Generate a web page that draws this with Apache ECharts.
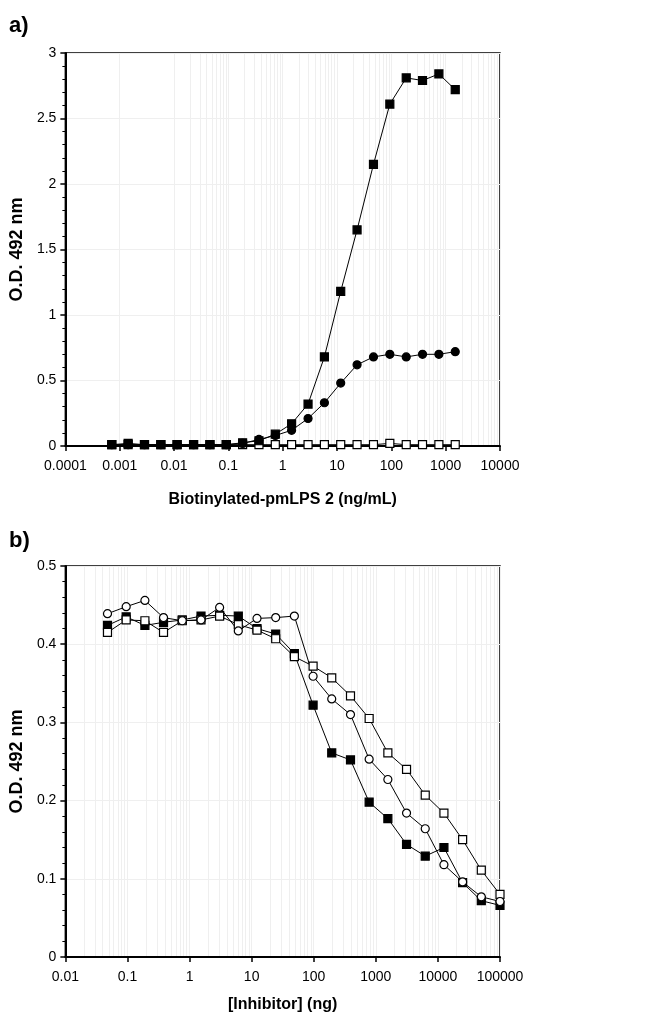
<!DOCTYPE html>
<html>
<head>
<meta charset="utf-8">
<script src="https://cdn.jsdelivr.net/npm/echarts@6/dist/echarts.min.js"></script>
<style>
html, body { margin: 0; padding: 0; background: #fff; }
#chart { width: 649px; height: 1023px; }
</style>
</head>
<body>
<div id="chart"></div>
<script>
// a) titration with biotinylated-pmLPS 2 (ng/mL), two-fold dilutions
const concA = [0.000715, 0.00143, 0.00286, 0.00572, 0.0114, 0.0229, 0.0458, 0.0916, 0.183, 0.366, 0.732,
    1.46, 2.93, 5.86, 11.7, 23.4, 46.9, 93.8, 188, 375, 750, 1500]
const filledSquareA = [0.01, 0.02, 0.01, 0.01, 0.01, 0.01, 0.01, 0.01, 0.025, 0.04, 0.09,
    0.17, 0.32, 0.68, 1.18, 1.65, 2.15, 2.61, 2.81, 2.79, 2.84, 2.72]
const filledCircleA = [0.01, 0.01, 0.01, 0.01, 0.01, 0.01, 0.01, 0.01, 0.02, 0.05, 0.08,
    0.12, 0.21, 0.33, 0.48, 0.62, 0.68, 0.70, 0.68, 0.70, 0.70, 0.72]
const openSquareA = [0.01, 0.01, 0.01, 0.01, 0.01, 0.01, 0.01, 0.01, 0.01, 0.01, 0.01,
    0.01, 0.01, 0.01, 0.01, 0.01, 0.01, 0.02, 0.01, 0.01, 0.01, 0.01]
const tickLabelsA = ['0.0001', '0.001', '0.01', '0.1', '1', '10', '100', '1000', '10000']

// b) inhibition, [Inhibitor] (ng)
const concB = [0.0477, 0.0954, 0.191, 0.381, 0.763, 1.53, 3.05, 6.10, 12.2, 24.4, 48.8,
    97.7, 195, 391, 781, 1563, 3125, 6250, 12500, 25000, 50000, 100000]
const filledSquareB = [0.424, 0.435, 0.424, 0.428, 0.431, 0.436, 0.437, 0.436, 0.420, 0.413, 0.388,
    0.322, 0.261, 0.252, 0.198, 0.177, 0.144, 0.129, 0.140, 0.095, 0.072, 0.066]
const openSquareB = [0.415, 0.431, 0.430, 0.415, 0.430, 0.431, 0.436, 0.425, 0.418, 0.407, 0.384,
    0.372, 0.357, 0.334, 0.305, 0.261, 0.240, 0.207, 0.184, 0.150, 0.111, 0.080]
const openCircleB = [0.439, 0.448, 0.456, 0.434, 0.430, 0.431, 0.447, 0.417, 0.433, 0.434, 0.436,
    0.359, 0.330, 0.310, 0.253, 0.227, 0.184, 0.164, 0.118, 0.096, 0.077, 0.071]
const tickLabelsB = ['0.01', '0.1', '1', '10', '100', '1000', '10000', '100000']

const FONT = 'Liberation Sans, Arial, sans-serif'
const pairs = (xs, ys) => xs.map((x, i) => [x, ys[i]])

// faint vertical lines at 2..9 of each decade, on an empty series kept under the data
const minorGrid = (idx, lo, hi) => {
    const marks = []
    for (let e = lo; e < hi; e++) {
        for (let k = 2; k <= 9; k++) marks.push({ xAxis: k * Math.pow(10, e) })
    }
    return {
        type: 'line', xAxisIndex: idx, yAxisIndex: idx, data: [], z: 1,
        markLine: {
            silent: true, symbol: 'none', label: { show: false }, z: 1,
            lineStyle: { color: '#efefef', type: 'solid', width: 1 },
            data: marks
        }
    }
}

const line = (data, idx, symbol, filled) => ({
    type: 'line',
    xAxisIndex: idx,
    yAxisIndex: idx,
    data,
    z: 3,
    symbol,
    symbolSize: 8,
    lineStyle: { color: '#000', width: 1 },
    itemStyle: { color: filled ? '#000' : '#fff', borderColor: '#000', borderWidth: 1.2 }
})

const xAxisCfg = (idx, min, max, labels, name, gap) => ({
    type: 'log',
    logBase: 10,
    gridIndex: idx,
    z: 2,
    min, max,
    splitNumber: labels.length - 1,
    name,
    nameLocation: 'middle',
    nameGap: gap,
    nameTextStyle: { fontFamily: FONT, fontWeight: 'bold', fontSize: 16, color: '#000' },
    axisLine: { lineStyle: { color: '#000', width: 2 } },
    axisTick: { length: 5, lineStyle: { color: '#000', width: 1.5 } },
    axisLabel: {
        fontFamily: FONT, fontSize: 14, color: '#000', margin: 13,
        formatter: v => labels[Math.round(Math.log10(v) - Math.log10(min))]
    },
    splitLine: { show: true, lineStyle: { color: '#efefef' } }
})

const yAxisCfg = (idx, max, interval, gap) => ({
    type: 'value',
    gridIndex: idx,
    z: 2,
    min: 0, max, interval,
    name: 'O.D. 492 nm',
    nameLocation: 'middle',
    nameGap: gap,
    nameTextStyle: { fontFamily: FONT, fontWeight: 'bold', fontSize: 18, color: '#000' },
    axisLine: { show: true, lineStyle: { color: '#000', width: 2 } },
    axisTick: { show: true, length: 5, lineStyle: { color: '#000', width: 1.5 } },
    minorTick: { show: true, splitNumber: 5, length: 3, lineStyle: { color: '#000', width: 1 } },
    axisLabel: { fontFamily: FONT, fontSize: 14, color: '#000', margin: 9 },
    splitLine: { show: true, lineStyle: { color: '#efefef' } }
})

const chart = echarts.init(document.getElementById('chart'), null, { renderer: 'canvas' })
chart.setOption({
    animation: false,
    backgroundColor: '#fff',
    graphic: [
        { type: 'text', left: 9, top: 15, style: { text: 'a)', font: 'bold 22px ' + FONT, fill: '#000' } },
        { type: 'text', left: 9, top: 530, style: { text: 'b)', font: 'bold 22px ' + FONT, fill: '#000' } }
    ],
    grid: [
        { left: 60, right: 149, top: 53, height: 393, z: 2, show: true, borderColor: '#000', borderWidth: 1.5 },
        { left: 62, right: 149, top: 566, height: 391, z: 2, show: true, borderColor: '#000', borderWidth: 1.5 }
    ],
    xAxis: [
        xAxisCfg(0, 0.0001, 10000, tickLabelsA, 'Biotinylated-pmLPS 2 (ng/mL)', 46),
        xAxisCfg(1, 0.01, 100000, tickLabelsB, '[Inhibitor] (ng)', 40)
    ],
    yAxis: [
        yAxisCfg(0, 3, 0.5, 36),
        yAxisCfg(1, 0.5, 0.1, 39)
    ],
    series: [
        minorGrid(0, -4, 4),
        line(pairs(concA, openSquareA), 0, 'rect', false),
        line(pairs(concA, filledCircleA), 0, 'circle', true),
        line(pairs(concA, filledSquareA), 0, 'rect', true),
        minorGrid(1, -2, 5),
        line(pairs(concB, filledSquareB), 1, 'rect', true),
        line(pairs(concB, openSquareB), 1, 'rect', false),
        line(pairs(concB, openCircleB), 1, 'circle', false)
    ]
})
</script>
</body>
</html>
